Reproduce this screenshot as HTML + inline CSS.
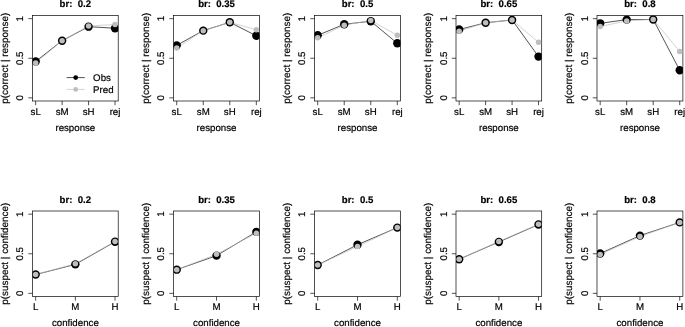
<!DOCTYPE html>
<html><head><meta charset="utf-8"><style>
html,body{margin:0;padding:0;background:#fff;}
body{width:685px;height:327px;overflow:hidden;}
svg{display:block;will-change:transform;text-rendering:geometricPrecision;font-family:"Liberation Sans",sans-serif;fill:#000;}
text{stroke:#000;stroke-width:0.2px;}
</style></head><body>
<svg width="685" height="327" viewBox="0 0 685 327">
<rect x="32.5" y="15.5" width="85.7" height="85.5" fill="none" stroke="#000" stroke-width="0.68"/>
<line x1="28.3" y1="97.83" x2="32.5" y2="97.83" stroke="#000" stroke-width="0.68"/>
<text x="23.1" y="97.83" transform="rotate(-90 23.1 97.83)" text-anchor="middle" font-size="9.7">0</text>
<line x1="28.3" y1="58.25" x2="32.5" y2="58.25" stroke="#000" stroke-width="0.68"/>
<text x="23.1" y="58.25" transform="rotate(-90 23.1 58.25)" text-anchor="middle" font-size="9.7">0.5</text>
<line x1="28.3" y1="18.67" x2="32.5" y2="18.67" stroke="#000" stroke-width="0.68"/>
<text x="23.1" y="18.67" transform="rotate(-90 23.1 18.67)" text-anchor="middle" font-size="9.7">1</text>
<line x1="35.67" y1="101" x2="35.67" y2="105.2" stroke="#000" stroke-width="0.68"/>
<text x="35.67" y="114.9" text-anchor="middle" font-size="9.7">sL</text>
<line x1="62.12" y1="101" x2="62.12" y2="105.2" stroke="#000" stroke-width="0.68"/>
<text x="62.12" y="114.9" text-anchor="middle" font-size="9.7">sM</text>
<line x1="88.58" y1="101" x2="88.58" y2="105.2" stroke="#000" stroke-width="0.68"/>
<text x="88.58" y="114.9" text-anchor="middle" font-size="9.7">sH</text>
<line x1="115.03" y1="101" x2="115.03" y2="105.2" stroke="#000" stroke-width="0.68"/>
<text x="115.03" y="114.9" text-anchor="middle" font-size="9.7">rej</text>
<text x="75.35" y="130.7" text-anchor="middle" font-size="9.7">response</text>
<text x="7.5" y="58.25" transform="rotate(-90 7.5 58.25)" text-anchor="middle" font-size="9.9">p(correct | response)</text>
<text x="75.35" y="7.2" text-anchor="middle" font-size="9.6" font-weight="bold" style="white-space:pre">br:  0.2</text>
<clipPath id="c00"><rect x="32.5" y="15.5" width="85.7" height="85.5"/></clipPath>
<g clip-path="url(#c00)">
<polyline points="35.67,61.42 62.12,40.68 88.58,26.67 115.03,28.25" fill="none" stroke="#000" stroke-width="0.68"/>
<polyline points="35.67,63.08 62.12,40.68 88.58,26.03 115.03,24.45" fill="none" stroke="#bebebe" stroke-width="0.68"/>
<circle cx="35.67" cy="61.42" r="4.2" fill="#000"/>
<circle cx="62.12" cy="40.68" r="4.2" fill="#000"/>
<circle cx="88.58" cy="26.67" r="4.2" fill="#000"/>
<circle cx="115.03" cy="28.25" r="4.2" fill="#000"/>
<circle cx="35.67" cy="63.08" r="2.75" fill="#bebebe"/>
<circle cx="62.12" cy="40.68" r="2.75" fill="#bebebe"/>
<circle cx="88.58" cy="26.03" r="2.75" fill="#bebebe"/>
<circle cx="115.03" cy="24.45" r="2.75" fill="#bebebe"/>
</g>
<line x1="66.6" y1="77.6" x2="84.8" y2="77.6" stroke="#000" stroke-width="0.68"/>
<circle cx="75.7" cy="77.6" r="2.4" fill="#000"/>
<line x1="66.6" y1="89.4" x2="84.8" y2="89.4" stroke="#bebebe" stroke-width="0.68"/>
<circle cx="75.7" cy="89.4" r="2.4" fill="#bebebe"/>
<text x="93.1" y="80.8" font-size="9.7">Obs</text>
<text x="93.1" y="92.6" font-size="9.7">Pred</text>
<rect x="173.55" y="15.5" width="85.95" height="85.5" fill="none" stroke="#000" stroke-width="0.68"/>
<line x1="169.35" y1="97.83" x2="173.55" y2="97.83" stroke="#000" stroke-width="0.68"/>
<text x="164.15" y="97.83" transform="rotate(-90 164.15 97.83)" text-anchor="middle" font-size="9.7">0</text>
<line x1="169.35" y1="58.25" x2="173.55" y2="58.25" stroke="#000" stroke-width="0.68"/>
<text x="164.15" y="58.25" transform="rotate(-90 164.15 58.25)" text-anchor="middle" font-size="9.7">0.5</text>
<line x1="169.35" y1="18.67" x2="173.55" y2="18.67" stroke="#000" stroke-width="0.68"/>
<text x="164.15" y="18.67" transform="rotate(-90 164.15 18.67)" text-anchor="middle" font-size="9.7">1</text>
<line x1="176.73" y1="101" x2="176.73" y2="105.2" stroke="#000" stroke-width="0.68"/>
<text x="176.73" y="114.9" text-anchor="middle" font-size="9.7">sL</text>
<line x1="203.26" y1="101" x2="203.26" y2="105.2" stroke="#000" stroke-width="0.68"/>
<text x="203.26" y="114.9" text-anchor="middle" font-size="9.7">sM</text>
<line x1="229.79" y1="101" x2="229.79" y2="105.2" stroke="#000" stroke-width="0.68"/>
<text x="229.79" y="114.9" text-anchor="middle" font-size="9.7">sH</text>
<line x1="256.32" y1="101" x2="256.32" y2="105.2" stroke="#000" stroke-width="0.68"/>
<text x="256.32" y="114.9" text-anchor="middle" font-size="9.7">rej</text>
<text x="216.53" y="130.7" text-anchor="middle" font-size="9.7">response</text>
<text x="148.55" y="58.25" transform="rotate(-90 148.55 58.25)" text-anchor="middle" font-size="9.9">p(correct | response)</text>
<text x="216.53" y="7.2" text-anchor="middle" font-size="9.6" font-weight="bold" style="white-space:pre">br:  0.35</text>
<clipPath id="c01"><rect x="173.55" y="15.5" width="85.95" height="85.5"/></clipPath>
<g clip-path="url(#c01)">
<polyline points="176.73,45.35 203.26,30.63 229.79,22.31 256.32,35.77" fill="none" stroke="#000" stroke-width="0.68"/>
<polyline points="176.73,48.04 203.26,30.63 229.79,22.31 256.32,29.75" fill="none" stroke="#bebebe" stroke-width="0.68"/>
<circle cx="176.73" cy="45.35" r="4.2" fill="#000"/>
<circle cx="203.26" cy="30.63" r="4.2" fill="#000"/>
<circle cx="229.79" cy="22.31" r="4.2" fill="#000"/>
<circle cx="256.32" cy="35.77" r="4.2" fill="#000"/>
<circle cx="176.73" cy="48.04" r="2.75" fill="#bebebe"/>
<circle cx="203.26" cy="30.63" r="2.75" fill="#bebebe"/>
<circle cx="229.79" cy="22.31" r="2.75" fill="#bebebe"/>
<circle cx="256.32" cy="29.75" r="2.75" fill="#bebebe"/>
</g>
<rect x="314.5" y="15.5" width="86" height="85.5" fill="none" stroke="#000" stroke-width="0.68"/>
<line x1="310.3" y1="97.83" x2="314.5" y2="97.83" stroke="#000" stroke-width="0.68"/>
<text x="305.1" y="97.83" transform="rotate(-90 305.1 97.83)" text-anchor="middle" font-size="9.7">0</text>
<line x1="310.3" y1="58.25" x2="314.5" y2="58.25" stroke="#000" stroke-width="0.68"/>
<text x="305.1" y="58.25" transform="rotate(-90 305.1 58.25)" text-anchor="middle" font-size="9.7">0.5</text>
<line x1="310.3" y1="18.67" x2="314.5" y2="18.67" stroke="#000" stroke-width="0.68"/>
<text x="305.1" y="18.67" transform="rotate(-90 305.1 18.67)" text-anchor="middle" font-size="9.7">1</text>
<line x1="317.69" y1="101" x2="317.69" y2="105.2" stroke="#000" stroke-width="0.68"/>
<text x="317.69" y="114.9" text-anchor="middle" font-size="9.7">sL</text>
<line x1="344.23" y1="101" x2="344.23" y2="105.2" stroke="#000" stroke-width="0.68"/>
<text x="344.23" y="114.9" text-anchor="middle" font-size="9.7">sM</text>
<line x1="370.77" y1="101" x2="370.77" y2="105.2" stroke="#000" stroke-width="0.68"/>
<text x="370.77" y="114.9" text-anchor="middle" font-size="9.7">sH</text>
<line x1="397.31" y1="101" x2="397.31" y2="105.2" stroke="#000" stroke-width="0.68"/>
<text x="397.31" y="114.9" text-anchor="middle" font-size="9.7">rej</text>
<text x="357.5" y="130.7" text-anchor="middle" font-size="9.7">response</text>
<text x="289.5" y="58.25" transform="rotate(-90 289.5 58.25)" text-anchor="middle" font-size="9.9">p(correct | response)</text>
<text x="357.5" y="7.2" text-anchor="middle" font-size="9.6" font-weight="bold" style="white-space:pre">br:  0.5</text>
<clipPath id="c02"><rect x="314.5" y="15.5" width="86" height="85.5"/></clipPath>
<g clip-path="url(#c02)">
<polyline points="317.69,35.3 344.23,24.29 370.77,21.2 397.31,43.29" fill="none" stroke="#000" stroke-width="0.68"/>
<polyline points="317.69,37.83 344.23,25.24 370.77,20.41 397.31,35.3" fill="none" stroke="#bebebe" stroke-width="0.68"/>
<circle cx="317.69" cy="35.3" r="4.2" fill="#000"/>
<circle cx="344.23" cy="24.29" r="4.2" fill="#000"/>
<circle cx="370.77" cy="21.2" r="4.2" fill="#000"/>
<circle cx="397.31" cy="43.29" r="4.2" fill="#000"/>
<circle cx="317.69" cy="37.83" r="2.75" fill="#bebebe"/>
<circle cx="344.23" cy="25.24" r="2.75" fill="#bebebe"/>
<circle cx="370.77" cy="20.41" r="2.75" fill="#bebebe"/>
<circle cx="397.31" cy="35.3" r="2.75" fill="#bebebe"/>
</g>
<rect x="456" y="15.5" width="85.7" height="85.5" fill="none" stroke="#000" stroke-width="0.68"/>
<line x1="451.8" y1="97.83" x2="456" y2="97.83" stroke="#000" stroke-width="0.68"/>
<text x="446.6" y="97.83" transform="rotate(-90 446.6 97.83)" text-anchor="middle" font-size="9.7">0</text>
<line x1="451.8" y1="58.25" x2="456" y2="58.25" stroke="#000" stroke-width="0.68"/>
<text x="446.6" y="58.25" transform="rotate(-90 446.6 58.25)" text-anchor="middle" font-size="9.7">0.5</text>
<line x1="451.8" y1="18.67" x2="456" y2="18.67" stroke="#000" stroke-width="0.68"/>
<text x="446.6" y="18.67" transform="rotate(-90 446.6 18.67)" text-anchor="middle" font-size="9.7">1</text>
<line x1="459.17" y1="101" x2="459.17" y2="105.2" stroke="#000" stroke-width="0.68"/>
<text x="459.17" y="114.9" text-anchor="middle" font-size="9.7">sL</text>
<line x1="485.62" y1="101" x2="485.62" y2="105.2" stroke="#000" stroke-width="0.68"/>
<text x="485.62" y="114.9" text-anchor="middle" font-size="9.7">sM</text>
<line x1="512.08" y1="101" x2="512.08" y2="105.2" stroke="#000" stroke-width="0.68"/>
<text x="512.08" y="114.9" text-anchor="middle" font-size="9.7">sH</text>
<line x1="538.53" y1="101" x2="538.53" y2="105.2" stroke="#000" stroke-width="0.68"/>
<text x="538.53" y="114.9" text-anchor="middle" font-size="9.7">rej</text>
<text x="498.85" y="130.7" text-anchor="middle" font-size="9.7">response</text>
<text x="431" y="58.25" transform="rotate(-90 431 58.25)" text-anchor="middle" font-size="9.9">p(correct | response)</text>
<text x="498.85" y="7.2" text-anchor="middle" font-size="9.6" font-weight="bold" style="white-space:pre">br:  0.65</text>
<clipPath id="c03"><rect x="456" y="15.5" width="85.7" height="85.5"/></clipPath>
<g clip-path="url(#c03)">
<polyline points="459.17,29.52 485.62,22.79 512.08,19.94 538.53,56.59" fill="none" stroke="#000" stroke-width="0.68"/>
<polyline points="459.17,31.18 485.62,22.79 512.08,19.94 538.53,42.34" fill="none" stroke="#bebebe" stroke-width="0.68"/>
<circle cx="459.17" cy="29.52" r="4.2" fill="#000"/>
<circle cx="485.62" cy="22.79" r="4.2" fill="#000"/>
<circle cx="512.08" cy="19.94" r="4.2" fill="#000"/>
<circle cx="538.53" cy="56.59" r="4.2" fill="#000"/>
<circle cx="459.17" cy="31.18" r="2.75" fill="#bebebe"/>
<circle cx="485.62" cy="22.79" r="2.75" fill="#bebebe"/>
<circle cx="512.08" cy="19.94" r="2.75" fill="#bebebe"/>
<circle cx="538.53" cy="42.34" r="2.75" fill="#bebebe"/>
</g>
<rect x="597" y="15.5" width="85.9" height="85.5" fill="none" stroke="#000" stroke-width="0.68"/>
<line x1="592.8" y1="97.83" x2="597" y2="97.83" stroke="#000" stroke-width="0.68"/>
<text x="587.6" y="97.83" transform="rotate(-90 587.6 97.83)" text-anchor="middle" font-size="9.7">0</text>
<line x1="592.8" y1="58.25" x2="597" y2="58.25" stroke="#000" stroke-width="0.68"/>
<text x="587.6" y="58.25" transform="rotate(-90 587.6 58.25)" text-anchor="middle" font-size="9.7">0.5</text>
<line x1="592.8" y1="18.67" x2="597" y2="18.67" stroke="#000" stroke-width="0.68"/>
<text x="587.6" y="18.67" transform="rotate(-90 587.6 18.67)" text-anchor="middle" font-size="9.7">1</text>
<line x1="600.18" y1="101" x2="600.18" y2="105.2" stroke="#000" stroke-width="0.68"/>
<text x="600.18" y="114.9" text-anchor="middle" font-size="9.7">sL</text>
<line x1="626.69" y1="101" x2="626.69" y2="105.2" stroke="#000" stroke-width="0.68"/>
<text x="626.69" y="114.9" text-anchor="middle" font-size="9.7">sM</text>
<line x1="653.21" y1="101" x2="653.21" y2="105.2" stroke="#000" stroke-width="0.68"/>
<text x="653.21" y="114.9" text-anchor="middle" font-size="9.7">sH</text>
<line x1="679.72" y1="101" x2="679.72" y2="105.2" stroke="#000" stroke-width="0.68"/>
<text x="679.72" y="114.9" text-anchor="middle" font-size="9.7">rej</text>
<text x="639.95" y="130.7" text-anchor="middle" font-size="9.7">response</text>
<text x="572" y="58.25" transform="rotate(-90 572 58.25)" text-anchor="middle" font-size="9.9">p(correct | response)</text>
<text x="639.95" y="7.2" text-anchor="middle" font-size="9.6" font-weight="bold" style="white-space:pre">br:  0.8</text>
<clipPath id="c04"><rect x="597" y="15.5" width="85.9" height="85.5"/></clipPath>
<g clip-path="url(#c04)">
<polyline points="600.18,23.34 626.69,19.62 653.21,19.46 679.72,70.29" fill="none" stroke="#000" stroke-width="0.68"/>
<polyline points="600.18,26.51 626.69,20.89 653.21,19.46 679.72,51.53" fill="none" stroke="#bebebe" stroke-width="0.68"/>
<circle cx="600.18" cy="23.34" r="4.2" fill="#000"/>
<circle cx="626.69" cy="19.62" r="4.2" fill="#000"/>
<circle cx="653.21" cy="19.46" r="4.2" fill="#000"/>
<circle cx="679.72" cy="70.29" r="4.2" fill="#000"/>
<circle cx="600.18" cy="26.51" r="2.75" fill="#bebebe"/>
<circle cx="626.69" cy="20.89" r="2.75" fill="#bebebe"/>
<circle cx="653.21" cy="19.46" r="2.75" fill="#bebebe"/>
<circle cx="679.72" cy="51.53" r="2.75" fill="#bebebe"/>
</g>
<rect x="32.5" y="211" width="85.7" height="85.5" fill="none" stroke="#000" stroke-width="0.68"/>
<line x1="28.3" y1="293.33" x2="32.5" y2="293.33" stroke="#000" stroke-width="0.68"/>
<text x="23.1" y="293.33" transform="rotate(-90 23.1 293.33)" text-anchor="middle" font-size="9.7">0</text>
<line x1="28.3" y1="253.75" x2="32.5" y2="253.75" stroke="#000" stroke-width="0.68"/>
<text x="23.1" y="253.75" transform="rotate(-90 23.1 253.75)" text-anchor="middle" font-size="9.7">0.5</text>
<line x1="28.3" y1="214.17" x2="32.5" y2="214.17" stroke="#000" stroke-width="0.68"/>
<text x="23.1" y="214.17" transform="rotate(-90 23.1 214.17)" text-anchor="middle" font-size="9.7">1</text>
<line x1="35.67" y1="296.5" x2="35.67" y2="300.7" stroke="#000" stroke-width="0.68"/>
<text x="35.67" y="310.4" text-anchor="middle" font-size="9.7">L</text>
<line x1="75.35" y1="296.5" x2="75.35" y2="300.7" stroke="#000" stroke-width="0.68"/>
<text x="75.35" y="310.4" text-anchor="middle" font-size="9.7">M</text>
<line x1="115.03" y1="296.5" x2="115.03" y2="300.7" stroke="#000" stroke-width="0.68"/>
<text x="115.03" y="310.4" text-anchor="middle" font-size="9.7">H</text>
<text x="75.35" y="326.2" text-anchor="middle" font-size="9.7">confidence</text>
<text x="7.5" y="253.75" transform="rotate(-90 7.5 253.75)" text-anchor="middle" font-size="9.9">p(suspect | confidence)</text>
<text x="75.35" y="202.7" text-anchor="middle" font-size="9.6" font-weight="bold" style="white-space:pre">br:  0.2</text>
<clipPath id="c10"><rect x="32.5" y="211" width="85.7" height="85.5"/></clipPath>
<g clip-path="url(#c10)">
<polyline points="35.67,274.57 75.35,264.36 115.03,241.8" fill="none" stroke="#000" stroke-width="0.68"/>
<polyline points="35.67,274.57 75.35,263.73 115.03,241.48" fill="none" stroke="#bebebe" stroke-width="0.68"/>
<circle cx="35.67" cy="274.57" r="4.2" fill="#000"/>
<circle cx="75.35" cy="264.36" r="4.2" fill="#000"/>
<circle cx="115.03" cy="241.8" r="4.2" fill="#000"/>
<circle cx="35.67" cy="274.57" r="2.75" fill="#bebebe"/>
<circle cx="75.35" cy="263.73" r="2.75" fill="#bebebe"/>
<circle cx="115.03" cy="241.48" r="2.75" fill="#bebebe"/>
</g>
<rect x="173.55" y="211" width="85.95" height="85.5" fill="none" stroke="#000" stroke-width="0.68"/>
<line x1="169.35" y1="293.33" x2="173.55" y2="293.33" stroke="#000" stroke-width="0.68"/>
<text x="164.15" y="293.33" transform="rotate(-90 164.15 293.33)" text-anchor="middle" font-size="9.7">0</text>
<line x1="169.35" y1="253.75" x2="173.55" y2="253.75" stroke="#000" stroke-width="0.68"/>
<text x="164.15" y="253.75" transform="rotate(-90 164.15 253.75)" text-anchor="middle" font-size="9.7">0.5</text>
<line x1="169.35" y1="214.17" x2="173.55" y2="214.17" stroke="#000" stroke-width="0.68"/>
<text x="164.15" y="214.17" transform="rotate(-90 164.15 214.17)" text-anchor="middle" font-size="9.7">1</text>
<line x1="176.73" y1="296.5" x2="176.73" y2="300.7" stroke="#000" stroke-width="0.68"/>
<text x="176.73" y="310.4" text-anchor="middle" font-size="9.7">L</text>
<line x1="216.53" y1="296.5" x2="216.53" y2="300.7" stroke="#000" stroke-width="0.68"/>
<text x="216.53" y="310.4" text-anchor="middle" font-size="9.7">M</text>
<line x1="256.32" y1="296.5" x2="256.32" y2="300.7" stroke="#000" stroke-width="0.68"/>
<text x="256.32" y="310.4" text-anchor="middle" font-size="9.7">H</text>
<text x="216.53" y="326.2" text-anchor="middle" font-size="9.7">confidence</text>
<text x="148.55" y="253.75" transform="rotate(-90 148.55 253.75)" text-anchor="middle" font-size="9.9">p(suspect | confidence)</text>
<text x="216.53" y="202.7" text-anchor="middle" font-size="9.6" font-weight="bold" style="white-space:pre">br:  0.35</text>
<clipPath id="c11"><rect x="173.55" y="211" width="85.95" height="85.5"/></clipPath>
<g clip-path="url(#c11)">
<polyline points="176.73,269.66 216.53,255.65 256.32,231.9" fill="none" stroke="#000" stroke-width="0.68"/>
<polyline points="176.73,269.66 216.53,254.3 256.32,233.17" fill="none" stroke="#bebebe" stroke-width="0.68"/>
<circle cx="176.73" cy="269.66" r="4.2" fill="#000"/>
<circle cx="216.53" cy="255.65" r="4.2" fill="#000"/>
<circle cx="256.32" cy="231.9" r="4.2" fill="#000"/>
<circle cx="176.73" cy="269.66" r="2.75" fill="#bebebe"/>
<circle cx="216.53" cy="254.3" r="2.75" fill="#bebebe"/>
<circle cx="256.32" cy="233.17" r="2.75" fill="#bebebe"/>
</g>
<rect x="314.5" y="211" width="86" height="85.5" fill="none" stroke="#000" stroke-width="0.68"/>
<line x1="310.3" y1="293.33" x2="314.5" y2="293.33" stroke="#000" stroke-width="0.68"/>
<text x="305.1" y="293.33" transform="rotate(-90 305.1 293.33)" text-anchor="middle" font-size="9.7">0</text>
<line x1="310.3" y1="253.75" x2="314.5" y2="253.75" stroke="#000" stroke-width="0.68"/>
<text x="305.1" y="253.75" transform="rotate(-90 305.1 253.75)" text-anchor="middle" font-size="9.7">0.5</text>
<line x1="310.3" y1="214.17" x2="314.5" y2="214.17" stroke="#000" stroke-width="0.68"/>
<text x="305.1" y="214.17" transform="rotate(-90 305.1 214.17)" text-anchor="middle" font-size="9.7">1</text>
<line x1="317.69" y1="296.5" x2="317.69" y2="300.7" stroke="#000" stroke-width="0.68"/>
<text x="317.69" y="310.4" text-anchor="middle" font-size="9.7">L</text>
<line x1="357.5" y1="296.5" x2="357.5" y2="300.7" stroke="#000" stroke-width="0.68"/>
<text x="357.5" y="310.4" text-anchor="middle" font-size="9.7">M</text>
<line x1="397.31" y1="296.5" x2="397.31" y2="300.7" stroke="#000" stroke-width="0.68"/>
<text x="397.31" y="310.4" text-anchor="middle" font-size="9.7">H</text>
<text x="357.5" y="326.2" text-anchor="middle" font-size="9.7">confidence</text>
<text x="289.5" y="253.75" transform="rotate(-90 289.5 253.75)" text-anchor="middle" font-size="9.9">p(suspect | confidence)</text>
<text x="357.5" y="202.7" text-anchor="middle" font-size="9.6" font-weight="bold" style="white-space:pre">br:  0.5</text>
<clipPath id="c12"><rect x="314.5" y="211" width="86" height="85.5"/></clipPath>
<g clip-path="url(#c12)">
<polyline points="317.69,265.07 357.5,244.72 397.31,227.62" fill="none" stroke="#000" stroke-width="0.68"/>
<polyline points="317.69,265.07 357.5,246.47 397.31,227.62" fill="none" stroke="#bebebe" stroke-width="0.68"/>
<circle cx="317.69" cy="265.07" r="4.2" fill="#000"/>
<circle cx="357.5" cy="244.72" r="4.2" fill="#000"/>
<circle cx="397.31" cy="227.62" r="4.2" fill="#000"/>
<circle cx="317.69" cy="265.07" r="2.75" fill="#bebebe"/>
<circle cx="357.5" cy="246.47" r="2.75" fill="#bebebe"/>
<circle cx="397.31" cy="227.62" r="2.75" fill="#bebebe"/>
</g>
<rect x="456" y="211" width="85.7" height="85.5" fill="none" stroke="#000" stroke-width="0.68"/>
<line x1="451.8" y1="293.33" x2="456" y2="293.33" stroke="#000" stroke-width="0.68"/>
<text x="446.6" y="293.33" transform="rotate(-90 446.6 293.33)" text-anchor="middle" font-size="9.7">0</text>
<line x1="451.8" y1="253.75" x2="456" y2="253.75" stroke="#000" stroke-width="0.68"/>
<text x="446.6" y="253.75" transform="rotate(-90 446.6 253.75)" text-anchor="middle" font-size="9.7">0.5</text>
<line x1="451.8" y1="214.17" x2="456" y2="214.17" stroke="#000" stroke-width="0.68"/>
<text x="446.6" y="214.17" transform="rotate(-90 446.6 214.17)" text-anchor="middle" font-size="9.7">1</text>
<line x1="459.17" y1="296.5" x2="459.17" y2="300.7" stroke="#000" stroke-width="0.68"/>
<text x="459.17" y="310.4" text-anchor="middle" font-size="9.7">L</text>
<line x1="498.85" y1="296.5" x2="498.85" y2="300.7" stroke="#000" stroke-width="0.68"/>
<text x="498.85" y="310.4" text-anchor="middle" font-size="9.7">M</text>
<line x1="538.53" y1="296.5" x2="538.53" y2="300.7" stroke="#000" stroke-width="0.68"/>
<text x="538.53" y="310.4" text-anchor="middle" font-size="9.7">H</text>
<text x="498.85" y="326.2" text-anchor="middle" font-size="9.7">confidence</text>
<text x="431" y="253.75" transform="rotate(-90 431 253.75)" text-anchor="middle" font-size="9.9">p(suspect | confidence)</text>
<text x="498.85" y="202.7" text-anchor="middle" font-size="9.6" font-weight="bold" style="white-space:pre">br:  0.65</text>
<clipPath id="c13"><rect x="456" y="211" width="85.7" height="85.5"/></clipPath>
<g clip-path="url(#c13)">
<polyline points="459.17,259.21 498.85,241.95 538.53,224.54" fill="none" stroke="#000" stroke-width="0.68"/>
<polyline points="459.17,259.21 498.85,241.48 538.53,224.22" fill="none" stroke="#bebebe" stroke-width="0.68"/>
<circle cx="459.17" cy="259.21" r="4.2" fill="#000"/>
<circle cx="498.85" cy="241.95" r="4.2" fill="#000"/>
<circle cx="538.53" cy="224.54" r="4.2" fill="#000"/>
<circle cx="459.17" cy="259.21" r="2.75" fill="#bebebe"/>
<circle cx="498.85" cy="241.48" r="2.75" fill="#bebebe"/>
<circle cx="538.53" cy="224.22" r="2.75" fill="#bebebe"/>
</g>
<rect x="597" y="211" width="85.9" height="85.5" fill="none" stroke="#000" stroke-width="0.68"/>
<line x1="592.8" y1="293.33" x2="597" y2="293.33" stroke="#000" stroke-width="0.68"/>
<text x="587.6" y="293.33" transform="rotate(-90 587.6 293.33)" text-anchor="middle" font-size="9.7">0</text>
<line x1="592.8" y1="253.75" x2="597" y2="253.75" stroke="#000" stroke-width="0.68"/>
<text x="587.6" y="253.75" transform="rotate(-90 587.6 253.75)" text-anchor="middle" font-size="9.7">0.5</text>
<line x1="592.8" y1="214.17" x2="597" y2="214.17" stroke="#000" stroke-width="0.68"/>
<text x="587.6" y="214.17" transform="rotate(-90 587.6 214.17)" text-anchor="middle" font-size="9.7">1</text>
<line x1="600.18" y1="296.5" x2="600.18" y2="300.7" stroke="#000" stroke-width="0.68"/>
<text x="600.18" y="310.4" text-anchor="middle" font-size="9.7">L</text>
<line x1="639.95" y1="296.5" x2="639.95" y2="300.7" stroke="#000" stroke-width="0.68"/>
<text x="639.95" y="310.4" text-anchor="middle" font-size="9.7">M</text>
<line x1="679.72" y1="296.5" x2="679.72" y2="300.7" stroke="#000" stroke-width="0.68"/>
<text x="679.72" y="310.4" text-anchor="middle" font-size="9.7">H</text>
<text x="639.95" y="326.2" text-anchor="middle" font-size="9.7">confidence</text>
<text x="572" y="253.75" transform="rotate(-90 572 253.75)" text-anchor="middle" font-size="9.9">p(suspect | confidence)</text>
<text x="639.95" y="202.7" text-anchor="middle" font-size="9.6" font-weight="bold" style="white-space:pre">br:  0.8</text>
<clipPath id="c14"><rect x="597" y="211" width="85.9" height="85.5"/></clipPath>
<g clip-path="url(#c14)">
<polyline points="600.18,253.51 639.95,235.62 679.72,222.4" fill="none" stroke="#000" stroke-width="0.68"/>
<polyline points="600.18,254.54 639.95,236.57 679.72,222.4" fill="none" stroke="#bebebe" stroke-width="0.68"/>
<circle cx="600.18" cy="253.51" r="4.2" fill="#000"/>
<circle cx="639.95" cy="235.62" r="4.2" fill="#000"/>
<circle cx="679.72" cy="222.4" r="4.2" fill="#000"/>
<circle cx="600.18" cy="254.54" r="2.75" fill="#bebebe"/>
<circle cx="639.95" cy="236.57" r="2.75" fill="#bebebe"/>
<circle cx="679.72" cy="222.4" r="2.75" fill="#bebebe"/>
</g>
</svg>
</body></html>
